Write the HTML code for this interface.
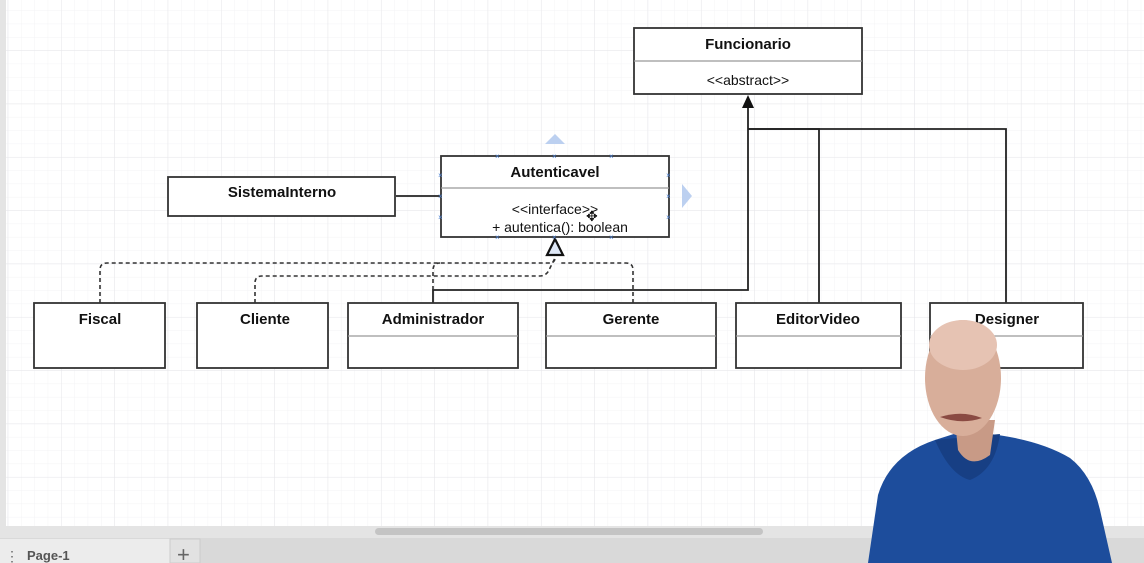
<!DOCTYPE html>
<html><head><meta charset="utf-8"><style>
html,body{margin:0;padding:0;width:1144px;height:563px;overflow:hidden;background:#e8e8e8}
</style></head><body>
<svg width="1144" height="563" viewBox="0 0 1144 563" xmlns="http://www.w3.org/2000/svg" style="display:block;font-family:'Liberation Sans',sans-serif">
<defs>
<pattern id="gm" width="13.33" height="13.33" patternUnits="userSpaceOnUse" x="7.7" y="-3">
<path d="M0 0V13.33M0 0H13.33" stroke="#f3f3f5" stroke-width="1" fill="none"/>
</pattern>
<pattern id="g" width="53.33" height="53.33" patternUnits="userSpaceOnUse" x="7.7" y="-3">
<path d="M0 0V53.33M0 0H53.33" stroke="#e6e6ea" stroke-width="1" fill="none"/>
</pattern>
</defs>
<rect x="0" y="0" width="1144" height="538" fill="#e4e4e4"/>
<rect x="6" y="0" width="1138" height="526" fill="#fff"/>
<rect x="6" y="0" width="1138" height="526" fill="url(#gm)"/>
<rect x="6" y="0" width="1138" height="526" fill="url(#g)"/>
<rect x="375" y="528" width="388" height="7" rx="3.5" fill="#c4c4c4"/>
<rect x="0" y="538" width="1144" height="25" fill="#d9d9d9"/>
<rect x="0" y="539" width="22" height="24" fill="#ececec"/>
<text x="5" y="561" font-size="14" fill="#666">⋮</text>
<rect x="22" y="539" width="148" height="24" fill="#ececec"/>
<text x="27" y="560" font-size="13" font-weight="bold" fill="#555">Page-1</text>
<rect x="170" y="539" width="30" height="24" fill="#e2e2e2" stroke="#ccc"/>
<text x="177" y="562" font-size="22" fill="#666">+</text>

<g fill="none" stroke="#222" stroke-width="1.8">
<path d="M433 303V290H748V100"/>
<path d="M819 303V129H748"/>
<path d="M1006 303V129H748"/>
<path d="M396 196H441"/>
</g>
<path d="M742 108L748 95L754 108Z" fill="#111"/>
<g fill="none" stroke="#333" stroke-width="1.6" stroke-dasharray="4,3">
<path d="M100 303V270Q100 263 107 263H548Q555 263 555 258"/>
<path d="M255 303V283Q255 276 262 276H540Q547 276 550 268L555 258"/>
<path d="M433 290V270Q433 263 440 263"/>
<path d="M633 303V270Q633 263 626 263H560"/>
</g>
<path d="M555 239L547 255H563Z" fill="#dfe8f7" stroke="#111" stroke-width="2.2"/>

<g fill="#fff" stroke="#333" stroke-width="1.8">
<rect x="634" y="28" width="228" height="66"/>
<line x1="634" y1="61" x2="862" y2="61" stroke="#999" stroke-width="1.3"/>
<rect x="168" y="177" width="227" height="39"/>
<rect x="441" y="156" width="228" height="81"/>
<line x1="441" y1="188" x2="669" y2="188" stroke="#999" stroke-width="1.3"/>
<rect x="34" y="303" width="131" height="65"/>
<rect x="197" y="303" width="131" height="65"/>
<rect x="348" y="303" width="170" height="65"/>
<line x1="348" y1="336" x2="518" y2="336" stroke="#999" stroke-width="1.3"/>
<rect x="546" y="303" width="170" height="65"/>
<line x1="546" y1="336" x2="716" y2="336" stroke="#999" stroke-width="1.3"/>
<rect x="736" y="303" width="165" height="65"/>
<line x1="736" y1="336" x2="901" y2="336" stroke="#999" stroke-width="1.3"/>
<rect x="930" y="303" width="153" height="65"/>
<line x1="930" y1="336" x2="1083" y2="336" stroke="#999" stroke-width="1.3"/>
</g>
<g fill="#bcd0f0">
<path d="M545 144L555 134L565 144Z"/>
<path d="M682 184L692 196L682 208Z"/>
</g>
<g fill="#4a7fd0" font-size="8">
<text x="495" y="159">×</text><text x="552" y="159">×</text><text x="609" y="159">×</text>
<text x="495" y="240">×</text><text x="552" y="240">×</text><text x="609" y="240">×</text>
<text x="438" y="178">×</text><text x="438" y="199">×</text><text x="438" y="220">×</text>
<text x="666" y="178">×</text><text x="666" y="199">×</text><text x="666" y="220">×</text>
</g>

<g font-size="14" fill="#111" text-anchor="middle">
<text x="748" y="49" font-weight="bold" font-size="15">Funcionario</text>
<text x="748" y="85">&lt;&lt;abstract&gt;&gt;</text>
<text x="282" y="197" font-weight="bold" font-size="15">SistemaInterno</text>
<text x="555" y="177" font-weight="bold" font-size="15">Autenticavel</text>
<text x="555" y="214">&lt;&lt;interface&gt;&gt;</text>
<text x="560" y="232">+ autentica(): boolean</text>
<text x="100" y="324" font-weight="bold" font-size="15">Fiscal</text>
<text x="265" y="324" font-weight="bold" font-size="15">Cliente</text>
<text x="433" y="324" font-weight="bold" font-size="15">Administrador</text>
<text x="631" y="324" font-weight="bold" font-size="15">Gerente</text>
<text x="818" y="324" font-weight="bold" font-size="15">EditorVideo</text>
<text x="1007" y="324" font-weight="bold" font-size="15">Designer</text>
</g>
<text x="586" y="221" font-size="14" fill="#111">✥</text>

<path d="M868 563L878 495Q890 455 935 440L960 432L990 434Q1040 440 1070 458Q1092 475 1100 510L1112 563Z" fill="#1d4d9c"/>
<path d="M935 440Q950 475 970 480Q995 470 1000 434Z" fill="#173f84"/>
<path d="M955 420L958 450Q970 470 990 455L995 420Z" fill="#c89a86"/>
<ellipse cx="963" cy="378" rx="38" ry="58" fill="#d8ae9a"/>
<ellipse cx="963" cy="345" rx="34" ry="25" fill="#e6c3b3"/>
<path d="M940 417Q962 410 982 418Q962 425 940 417Z" fill="#8a4a42"/>
</svg>
</body></html>
